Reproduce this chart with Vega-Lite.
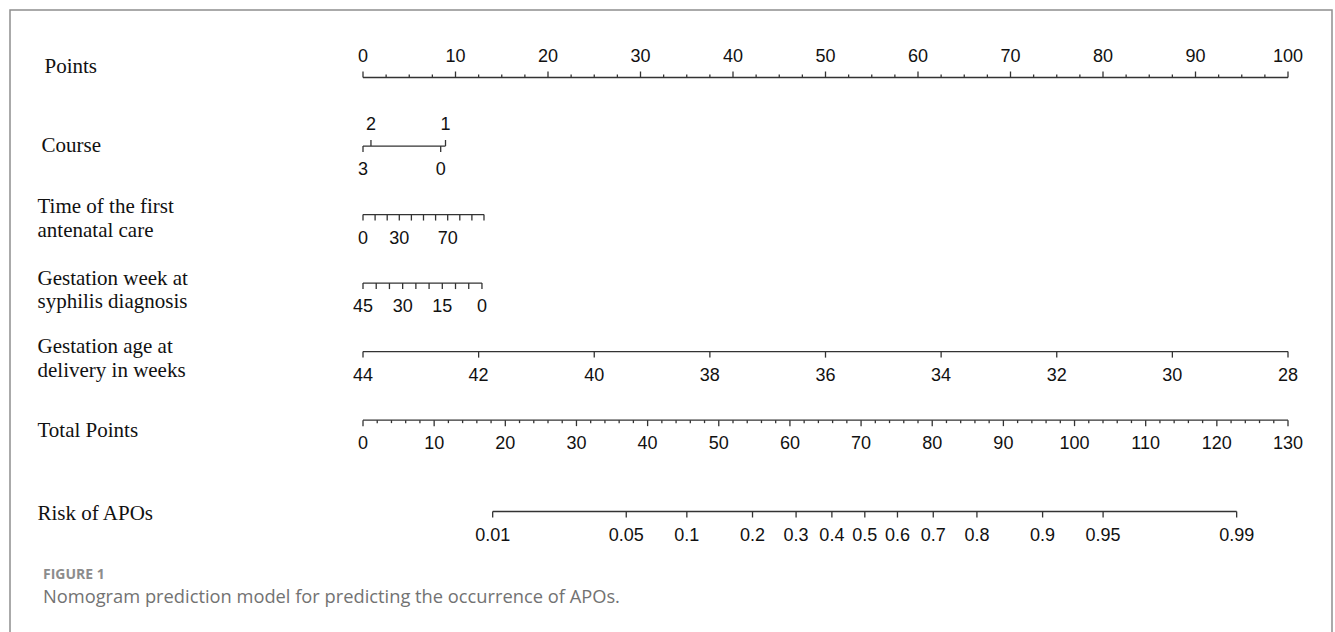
{
  "$schema": "https://vega.github.io/schema/vega-lite/v6.json",
  "autosize": "none",
  "width": 1322,
  "height": 640,
  "padding": {"left": 10, "top": 10, "right": 3, "bottom": -18},
  "background": "white",
  "config": {"view": {"stroke": "#8f8f8f", "strokeWidth": 1.5}},
  "title": {
    "text": "FIGURE 1",
    "subtitle": "Nomogram prediction model for predicting the occurrence of APOs.",
    "orient": "bottom",
    "anchor": "start",
    "frame": "group",
    "offset": -82,
    "dx": 33,
    "font": "Open Sans",
    "fontSize": 14,
    "fontWeight": "bold",
    "color": "#8c8c8c",
    "subtitleFont": "Open Sans",
    "subtitleFontSize": 18.3,
    "subtitleColor": "#727272",
    "subtitlePadding": 7
  },
  "data": {"values": [
    {"row": "Points", "label": "0", "pts": 0, "kind": "major", "side": "up"},
    {"row": "Points", "label": "10", "pts": 10, "kind": "major", "side": "up"},
    {"row": "Points", "label": "20", "pts": 20, "kind": "major", "side": "up"},
    {"row": "Points", "label": "30", "pts": 30, "kind": "major", "side": "up"},
    {"row": "Points", "label": "40", "pts": 40, "kind": "major", "side": "up"},
    {"row": "Points", "label": "50", "pts": 50, "kind": "major", "side": "up"},
    {"row": "Points", "label": "60", "pts": 60, "kind": "major", "side": "up"},
    {"row": "Points", "label": "70", "pts": 70, "kind": "major", "side": "up"},
    {"row": "Points", "label": "80", "pts": 80, "kind": "major", "side": "up"},
    {"row": "Points", "label": "90", "pts": 90, "kind": "major", "side": "up"},
    {"row": "Points", "label": "100", "pts": 100, "kind": "major", "side": "up"},
    {"row": "Points", "label": "", "pts": 2.5, "kind": "minor", "side": "up"},
    {"row": "Points", "label": "", "pts": 5, "kind": "minor", "side": "up"},
    {"row": "Points", "label": "", "pts": 7.5, "kind": "minor", "side": "up"},
    {"row": "Points", "label": "", "pts": 12.5, "kind": "minor", "side": "up"},
    {"row": "Points", "label": "", "pts": 15, "kind": "minor", "side": "up"},
    {"row": "Points", "label": "", "pts": 17.5, "kind": "minor", "side": "up"},
    {"row": "Points", "label": "", "pts": 22.5, "kind": "minor", "side": "up"},
    {"row": "Points", "label": "", "pts": 25, "kind": "minor", "side": "up"},
    {"row": "Points", "label": "", "pts": 27.5, "kind": "minor", "side": "up"},
    {"row": "Points", "label": "", "pts": 32.5, "kind": "minor", "side": "up"},
    {"row": "Points", "label": "", "pts": 35, "kind": "minor", "side": "up"},
    {"row": "Points", "label": "", "pts": 37.5, "kind": "minor", "side": "up"},
    {"row": "Points", "label": "", "pts": 42.5, "kind": "minor", "side": "up"},
    {"row": "Points", "label": "", "pts": 45, "kind": "minor", "side": "up"},
    {"row": "Points", "label": "", "pts": 47.5, "kind": "minor", "side": "up"},
    {"row": "Points", "label": "", "pts": 52.5, "kind": "minor", "side": "up"},
    {"row": "Points", "label": "", "pts": 55, "kind": "minor", "side": "up"},
    {"row": "Points", "label": "", "pts": 57.5, "kind": "minor", "side": "up"},
    {"row": "Points", "label": "", "pts": 62.5, "kind": "minor", "side": "up"},
    {"row": "Points", "label": "", "pts": 65, "kind": "minor", "side": "up"},
    {"row": "Points", "label": "", "pts": 67.5, "kind": "minor", "side": "up"},
    {"row": "Points", "label": "", "pts": 72.5, "kind": "minor", "side": "up"},
    {"row": "Points", "label": "", "pts": 75, "kind": "minor", "side": "up"},
    {"row": "Points", "label": "", "pts": 77.5, "kind": "minor", "side": "up"},
    {"row": "Points", "label": "", "pts": 82.5, "kind": "minor", "side": "up"},
    {"row": "Points", "label": "", "pts": 85, "kind": "minor", "side": "up"},
    {"row": "Points", "label": "", "pts": 87.5, "kind": "minor", "side": "up"},
    {"row": "Points", "label": "", "pts": 92.5, "kind": "minor", "side": "up"},
    {"row": "Points", "label": "", "pts": 95, "kind": "minor", "side": "up"},
    {"row": "Points", "label": "", "pts": 97.5, "kind": "minor", "side": "up"},

    {"row": "Course", "label": "3", "pts": 0, "kind": "major", "side": "down"},
    {"row": "Course", "label": "2", "pts": 0.86, "kind": "major", "side": "up"},
    {"row": "Course", "label": "0", "pts": 8.4, "kind": "major", "side": "down"},
    {"row": "Course", "label": "1", "pts": 8.92, "kind": "major", "side": "up"},

    {"row": "Time of the first|antenatal care", "label": "0", "pts": 0, "kind": "major", "side": "down"},
    {"row": "Time of the first|antenatal care", "label": "", "pts": 1.308, "kind": "major", "side": "down"},
    {"row": "Time of the first|antenatal care", "label": "", "pts": 2.616, "kind": "major", "side": "down"},
    {"row": "Time of the first|antenatal care", "label": "30", "pts": 3.924, "kind": "major", "side": "down"},
    {"row": "Time of the first|antenatal care", "label": "", "pts": 5.232, "kind": "major", "side": "down"},
    {"row": "Time of the first|antenatal care", "label": "", "pts": 6.54, "kind": "major", "side": "down"},
    {"row": "Time of the first|antenatal care", "label": "", "pts": 7.848, "kind": "major", "side": "down"},
    {"row": "Time of the first|antenatal care", "label": "70", "pts": 9.156, "kind": "major", "side": "down"},
    {"row": "Time of the first|antenatal care", "label": "", "pts": 10.464, "kind": "major", "side": "down"},
    {"row": "Time of the first|antenatal care", "label": "", "pts": 11.772, "kind": "major", "side": "down"},
    {"row": "Time of the first|antenatal care", "label": "", "pts": 13.08, "kind": "major", "side": "down"},

    {"row": "Gestation week at|syphilis diagnosis", "label": "45", "pts": 0, "kind": "major", "side": "down"},
    {"row": "Gestation week at|syphilis diagnosis", "label": "", "pts": 1.429, "kind": "major", "side": "down"},
    {"row": "Gestation week at|syphilis diagnosis", "label": "", "pts": 2.858, "kind": "major", "side": "down"},
    {"row": "Gestation week at|syphilis diagnosis", "label": "30", "pts": 4.287, "kind": "major", "side": "down"},
    {"row": "Gestation week at|syphilis diagnosis", "label": "", "pts": 5.716, "kind": "major", "side": "down"},
    {"row": "Gestation week at|syphilis diagnosis", "label": "", "pts": 7.144, "kind": "major", "side": "down"},
    {"row": "Gestation week at|syphilis diagnosis", "label": "15", "pts": 8.573, "kind": "major", "side": "down"},
    {"row": "Gestation week at|syphilis diagnosis", "label": "", "pts": 10.002, "kind": "major", "side": "down"},
    {"row": "Gestation week at|syphilis diagnosis", "label": "", "pts": 11.431, "kind": "major", "side": "down"},
    {"row": "Gestation week at|syphilis diagnosis", "label": "0", "pts": 12.86, "kind": "major", "side": "down"},

    {"row": "Gestation age at|delivery in weeks", "label": "44", "pts": 0, "kind": "major", "side": "down"},
    {"row": "Gestation age at|delivery in weeks", "label": "42", "pts": 12.5, "kind": "major", "side": "down"},
    {"row": "Gestation age at|delivery in weeks", "label": "40", "pts": 25, "kind": "major", "side": "down"},
    {"row": "Gestation age at|delivery in weeks", "label": "38", "pts": 37.5, "kind": "major", "side": "down"},
    {"row": "Gestation age at|delivery in weeks", "label": "36", "pts": 50, "kind": "major", "side": "down"},
    {"row": "Gestation age at|delivery in weeks", "label": "34", "pts": 62.5, "kind": "major", "side": "down"},
    {"row": "Gestation age at|delivery in weeks", "label": "32", "pts": 75, "kind": "major", "side": "down"},
    {"row": "Gestation age at|delivery in weeks", "label": "30", "pts": 87.5, "kind": "major", "side": "down"},
    {"row": "Gestation age at|delivery in weeks", "label": "28", "pts": 100, "kind": "major", "side": "down"},

    {"row": "Total Points", "label": "0", "pts": 0, "kind": "major", "side": "down"},
    {"row": "Total Points", "label": "10", "pts": 7.692, "kind": "major", "side": "down"},
    {"row": "Total Points", "label": "20", "pts": 15.385, "kind": "major", "side": "down"},
    {"row": "Total Points", "label": "30", "pts": 23.077, "kind": "major", "side": "down"},
    {"row": "Total Points", "label": "40", "pts": 30.769, "kind": "major", "side": "down"},
    {"row": "Total Points", "label": "50", "pts": 38.462, "kind": "major", "side": "down"},
    {"row": "Total Points", "label": "60", "pts": 46.154, "kind": "major", "side": "down"},
    {"row": "Total Points", "label": "70", "pts": 53.846, "kind": "major", "side": "down"},
    {"row": "Total Points", "label": "80", "pts": 61.538, "kind": "major", "side": "down"},
    {"row": "Total Points", "label": "90", "pts": 69.231, "kind": "major", "side": "down"},
    {"row": "Total Points", "label": "100", "pts": 76.923, "kind": "major", "side": "down"},
    {"row": "Total Points", "label": "110", "pts": 84.615, "kind": "major", "side": "down"},
    {"row": "Total Points", "label": "120", "pts": 92.308, "kind": "major", "side": "down"},
    {"row": "Total Points", "label": "130", "pts": 100, "kind": "major", "side": "down"},
    {"row": "Total Points", "label": "", "pts": 1.538, "kind": "minor", "side": "down"},
    {"row": "Total Points", "label": "", "pts": 3.077, "kind": "minor", "side": "down"},
    {"row": "Total Points", "label": "", "pts": 4.615, "kind": "minor", "side": "down"},
    {"row": "Total Points", "label": "", "pts": 6.154, "kind": "minor", "side": "down"},
    {"row": "Total Points", "label": "", "pts": 9.231, "kind": "minor", "side": "down"},
    {"row": "Total Points", "label": "", "pts": 10.769, "kind": "minor", "side": "down"},
    {"row": "Total Points", "label": "", "pts": 12.308, "kind": "minor", "side": "down"},
    {"row": "Total Points", "label": "", "pts": 13.846, "kind": "minor", "side": "down"},
    {"row": "Total Points", "label": "", "pts": 16.923, "kind": "minor", "side": "down"},
    {"row": "Total Points", "label": "", "pts": 18.462, "kind": "minor", "side": "down"},
    {"row": "Total Points", "label": "", "pts": 20, "kind": "minor", "side": "down"},
    {"row": "Total Points", "label": "", "pts": 21.538, "kind": "minor", "side": "down"},
    {"row": "Total Points", "label": "", "pts": 24.615, "kind": "minor", "side": "down"},
    {"row": "Total Points", "label": "", "pts": 26.154, "kind": "minor", "side": "down"},
    {"row": "Total Points", "label": "", "pts": 27.692, "kind": "minor", "side": "down"},
    {"row": "Total Points", "label": "", "pts": 29.231, "kind": "minor", "side": "down"},
    {"row": "Total Points", "label": "", "pts": 32.308, "kind": "minor", "side": "down"},
    {"row": "Total Points", "label": "", "pts": 33.846, "kind": "minor", "side": "down"},
    {"row": "Total Points", "label": "", "pts": 35.385, "kind": "minor", "side": "down"},
    {"row": "Total Points", "label": "", "pts": 36.923, "kind": "minor", "side": "down"},
    {"row": "Total Points", "label": "", "pts": 40, "kind": "minor", "side": "down"},
    {"row": "Total Points", "label": "", "pts": 41.538, "kind": "minor", "side": "down"},
    {"row": "Total Points", "label": "", "pts": 43.077, "kind": "minor", "side": "down"},
    {"row": "Total Points", "label": "", "pts": 44.615, "kind": "minor", "side": "down"},
    {"row": "Total Points", "label": "", "pts": 47.692, "kind": "minor", "side": "down"},
    {"row": "Total Points", "label": "", "pts": 49.231, "kind": "minor", "side": "down"},
    {"row": "Total Points", "label": "", "pts": 50.769, "kind": "minor", "side": "down"},
    {"row": "Total Points", "label": "", "pts": 52.308, "kind": "minor", "side": "down"},
    {"row": "Total Points", "label": "", "pts": 55.385, "kind": "minor", "side": "down"},
    {"row": "Total Points", "label": "", "pts": 56.923, "kind": "minor", "side": "down"},
    {"row": "Total Points", "label": "", "pts": 58.462, "kind": "minor", "side": "down"},
    {"row": "Total Points", "label": "", "pts": 60, "kind": "minor", "side": "down"},
    {"row": "Total Points", "label": "", "pts": 63.077, "kind": "minor", "side": "down"},
    {"row": "Total Points", "label": "", "pts": 64.615, "kind": "minor", "side": "down"},
    {"row": "Total Points", "label": "", "pts": 66.154, "kind": "minor", "side": "down"},
    {"row": "Total Points", "label": "", "pts": 67.692, "kind": "minor", "side": "down"},
    {"row": "Total Points", "label": "", "pts": 70.769, "kind": "minor", "side": "down"},
    {"row": "Total Points", "label": "", "pts": 72.308, "kind": "minor", "side": "down"},
    {"row": "Total Points", "label": "", "pts": 73.846, "kind": "minor", "side": "down"},
    {"row": "Total Points", "label": "", "pts": 75.385, "kind": "minor", "side": "down"},
    {"row": "Total Points", "label": "", "pts": 78.462, "kind": "minor", "side": "down"},
    {"row": "Total Points", "label": "", "pts": 80, "kind": "minor", "side": "down"},
    {"row": "Total Points", "label": "", "pts": 81.538, "kind": "minor", "side": "down"},
    {"row": "Total Points", "label": "", "pts": 83.077, "kind": "minor", "side": "down"},
    {"row": "Total Points", "label": "", "pts": 86.154, "kind": "minor", "side": "down"},
    {"row": "Total Points", "label": "", "pts": 87.692, "kind": "minor", "side": "down"},
    {"row": "Total Points", "label": "", "pts": 89.231, "kind": "minor", "side": "down"},
    {"row": "Total Points", "label": "", "pts": 90.769, "kind": "minor", "side": "down"},
    {"row": "Total Points", "label": "", "pts": 93.846, "kind": "minor", "side": "down"},
    {"row": "Total Points", "label": "", "pts": 95.385, "kind": "minor", "side": "down"},
    {"row": "Total Points", "label": "", "pts": 96.923, "kind": "minor", "side": "down"},
    {"row": "Total Points", "label": "", "pts": 98.462, "kind": "minor", "side": "down"},

    {"row": "Risk of APOs", "label": "0.01", "pts": 14.02, "kind": "major", "side": "down"},
    {"row": "Risk of APOs", "label": "0.05", "pts": 28.46, "kind": "major", "side": "down"},
    {"row": "Risk of APOs", "label": "0.1", "pts": 35.01, "kind": "major", "side": "down"},
    {"row": "Risk of APOs", "label": "0.2", "pts": 42.11, "kind": "major", "side": "down"},
    {"row": "Risk of APOs", "label": "0.3", "pts": 46.82, "kind": "major", "side": "down"},
    {"row": "Risk of APOs", "label": "0.4", "pts": 50.69, "kind": "major", "side": "down"},
    {"row": "Risk of APOs", "label": "0.5", "pts": 54.25, "kind": "major", "side": "down"},
    {"row": "Risk of APOs", "label": "0.6", "pts": 57.78, "kind": "major", "side": "down"},
    {"row": "Risk of APOs", "label": "0.7", "pts": 61.65, "kind": "major", "side": "down"},
    {"row": "Risk of APOs", "label": "0.8", "pts": 66.37, "kind": "major", "side": "down"},
    {"row": "Risk of APOs", "label": "0.9", "pts": 73.47, "kind": "major", "side": "down"},
    {"row": "Risk of APOs", "label": "0.95", "pts": 80.01, "kind": "major", "side": "down"},
    {"row": "Risk of APOs", "label": "0.99", "pts": 94.45, "kind": "major", "side": "down"}
  ]},
  "encoding": {
    "x": {
      "field": "pts", "type": "quantitative", "axis": null,
      "scale": {"domain": [0, 100], "range": [353, 1278], "nice": false, "zero": false}
    },
    "y": {
      "field": "row", "type": "ordinal",
      "scale": {
        "type": "point", "padding": 0, "range": [67.5, 501.5],
        "domain": ["Points", "_1", "_2", "Course", "_3", "_4", "Time of the first|antenatal care", "_5", "_6", "Gestation week at|syphilis diagnosis", "_7", "_8", "Gestation age at|delivery in weeks", "_9", "_10", "Total Points", "_11", "_12", "_13", "Risk of APOs"]
      },
      "axis": {
        "values": ["Points", "Course", "Time of the first|antenatal care", "Gestation week at|syphilis diagnosis", "Gestation age at|delivery in weeks", "Total Points", "Risk of APOs"],
        "title": null, "domain": false, "ticks": false, "tickSize": 0, "grid": false,
        "labelAlign": "left", "labelBaseline": "middle",
        "labelFont": "Liberation Serif", "labelFontSize": 21, "labelColor": "#111111",
        "labelLineHeight": 23.5, "labelLimit": 400, "labelOverlap": false,
        "labelExpr": "split(datum.value, '|')",
        "labelPadding": {"condition": [
          {"test": "datum.value === 'Points'", "value": -34},
          {"test": "datum.value === 'Course'", "value": -31}
        ], "value": -27},
        "labelOffset": {"condition": [
          {"test": "datum.value === 'Points'", "value": -11.5},
          {"test": "datum.value === 'Course'", "value": -1},
          {"test": "datum.value === 'Time of the first|antenatal care'", "value": -8},
          {"test": "datum.value === 'Total Points'", "value": 10},
          {"test": "datum.value === 'Risk of APOs'", "value": 1.5}
        ], "value": -5}
      }
    }
  },
  "layer": [
    {
      "mark": {"type": "rule", "color": "#333333", "strokeWidth": 1.3},
      "encoding": {
        "x": {"aggregate": "min", "field": "pts", "type": "quantitative", "axis": null,
              "scale": {"domain": [0, 100], "range": [353, 1278], "nice": false, "zero": false}},
        "x2": {"aggregate": "max", "field": "pts"}
      }
    },
    {
      "transform": [{"filter": "datum.side === 'up' && datum.kind === 'major'"}],
      "mark": {"type": "tick", "orient": "vertical", "size": 6, "thickness": 1.3, "yOffset": -3, "color": "#333333", "opacity": 1}
    },
    {
      "transform": [{"filter": "datum.side === 'up' && datum.kind === 'minor'"}],
      "mark": {"type": "tick", "orient": "vertical", "size": 3, "thickness": 1.3, "yOffset": -1.5, "color": "#333333", "opacity": 1}
    },
    {
      "transform": [{"filter": "datum.side === 'down' && datum.kind === 'major'"}],
      "mark": {"type": "tick", "orient": "vertical", "size": 6, "thickness": 1.3, "yOffset": 3, "color": "#333333", "opacity": 1}
    },
    {
      "transform": [{"filter": "datum.side === 'down' && datum.kind === 'minor'"}],
      "mark": {"type": "tick", "orient": "vertical", "size": 3, "thickness": 1.3, "yOffset": 1.5, "color": "#333333", "opacity": 1}
    },
    {
      "transform": [{"filter": "datum.side === 'up' && datum.label !== ''"}],
      "mark": {"type": "text", "font": "Liberation Sans", "fontSize": 18, "color": "#111111", "align": "center", "baseline": "middle", "yOffset": -21},
      "encoding": {"text": {"field": "label"}}
    },
    {
      "transform": [{"filter": "datum.side === 'down' && datum.label !== ''"}],
      "mark": {"type": "text", "font": "Liberation Sans", "fontSize": 18, "color": "#111111", "align": "center", "baseline": "middle", "yOffset": 24},
      "encoding": {"text": {"field": "label"}}
    }
  ]
}
